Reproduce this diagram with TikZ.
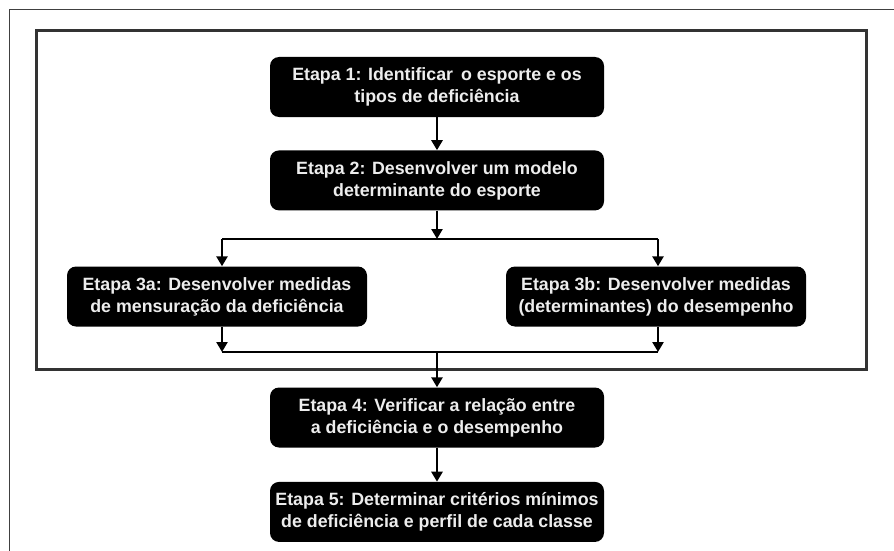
\documentclass[tikz,border=0pt]{standalone}
\usepackage{fontspec}
\setmainfont{Liberation Sans}
\usetikzlibrary{positioning,arrows.meta}

\begin{document}
\begin{tikzpicture}[x=1pt,y=1pt]
    \tikzset{etapa/.style = {rectangle, rounded corners=9pt, fill=black, text=white!93!black,
        font=\bfseries\fontsize{17.8}{22}\selectfont, align=center,
        minimum width=334pt, minimum height=60pt, inner sep=0pt},
      flow/.style = {line width=2.8pt, -{Triangle[width=11pt,length=10pt]}},
      bar/.style = {line width=2.8pt}}
    \useasboundingbox (0,0) rectangle (894,-551);
    % page frame and block frame
    \draw[black!75, line width=1pt] (894,-10) -- (9,-10) -- (9,-551);
    \draw[black!80, line width=3pt] (36,-31) rectangle (866,-369);
    %%
    \node[etapa] (e1) at (437,-87) {Etapa 1: Identificar\, o esporte e os\\tipos de deficiência};
    \node[etapa] (e2) [below = 33pt of e1] {Etapa 2: Desenvolver um modelo\\determinante do esporte};
    \node[etapa, minimum width=300pt] (e3a) at (217,-296.5) {Etapa 3a: Desenvolver medidas\\de mensuração da deficiência};
    \node[etapa, minimum width=300pt] (e3b) at (656,-296.5) {Etapa 3b: Desenvolver medidas\\(determinantes) do desempenho};
    \node[etapa] (e4) at (437,-417.5) {Etapa 4: Verificar a relação entre\\a deficiência e o desempenho};
    \node[etapa] (e5) [below = 34pt of e4] {Etapa 5: Determinar critérios mínimos\\de deficiência e perfil de cada classe};
    %%
    \coordinate (split) at (437,-239);
    \coordinate (sl) at (222,-239);
    \coordinate (sr) at (658,-239);
    \coordinate (join) at (437,-352);
    \coordinate (jl) at (222,-352);
    \coordinate (jr) at (658,-352);
    %%
    \draw[flow] (e1) -- (e2);
    \draw[flow] (e2) -- (split);
    \draw[bar] (sl) -- (sr);
    \draw[flow] (sl) -- (sl |- e3a.north);
    \draw[flow] (sr) -- (sr |- e3b.north);
    \draw[flow] (sl |- e3a.south) -- (jl);
    \draw[flow] (sr |- e3b.south) -- (jr);
    \draw[bar] (jl) -- (jr);
    \draw[flow] (join) -- (e4);
    \draw[flow] (e4) -- (e5);
\end{tikzpicture}
\end{document}
